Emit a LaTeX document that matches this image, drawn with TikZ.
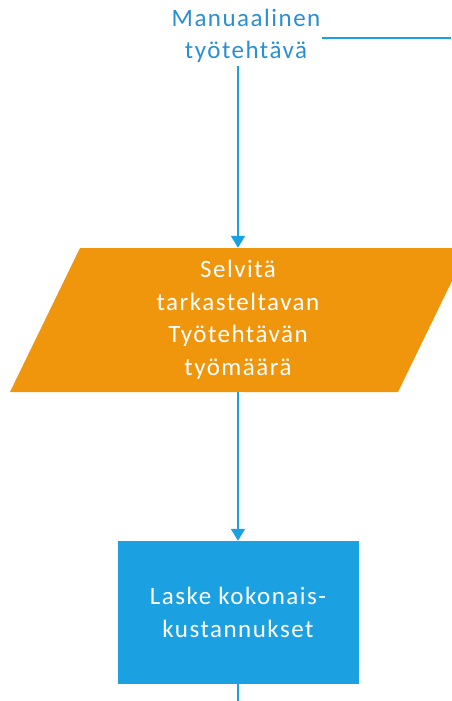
\documentclass[tikz,border=0pt]{standalone}
\usepackage{fontspec}
\setmainfont{Carlito}[LetterSpace=6]
\usetikzlibrary{arrows.meta}
\definecolor{lblue}{HTML}{1BA1E2}
\definecolor{tblue}{HTML}{2A8FD0}
\definecolor{morange}{HTML}{F0960C}
\tikzset{
  conn/.style={draw=lblue, line width=2pt},
  arr/.style={conn, -{Triangle[width=14pt,length=12pt]}},
  wtext/.style={text=white, align=center, font=\fontsize{25}{32.5}\selectfont},
}
\begin{document}
\begin{tikzpicture}[x=1pt,y=-1pt]
\useasboundingbox (0,0) rectangle (451,701);
% top text
\node[text=tblue, align=center, font=\fontsize{25}{32}\selectfont, inner sep=1pt] (top) at (246,36) {Manuaalinen\\työtehtävä};
\coordinate (rightend) at (451,38);
\draw[conn] (top.east |- rightend) -- (rightend);
% parallelogram
\fill[morange] (80,248) -- (468,248) -- (398,392) -- (10,392) -- cycle;
\node[wtext, minimum width=250pt, minimum height=144pt, inner sep=0pt] (par) at (238,320) {Selvitä\\tarkasteltavan\\Työtehtävän\\työmäärä};
% rectangle
\node[fill=lblue, wtext, minimum width=241pt, minimum height=143pt, inner sep=0pt] (calc) at (238,612.5) {Laske kokonais-\\kustannukset};
\coordinate (bottomend) at (238,701);
% connectors
\draw[arr] (top.south -| par.north) ++(0,2) -- (par.north);
\draw[arr] (par.south) -- (calc.north);
\draw[conn] (calc.south) -- (bottomend);
\end{tikzpicture}
\end{document}
